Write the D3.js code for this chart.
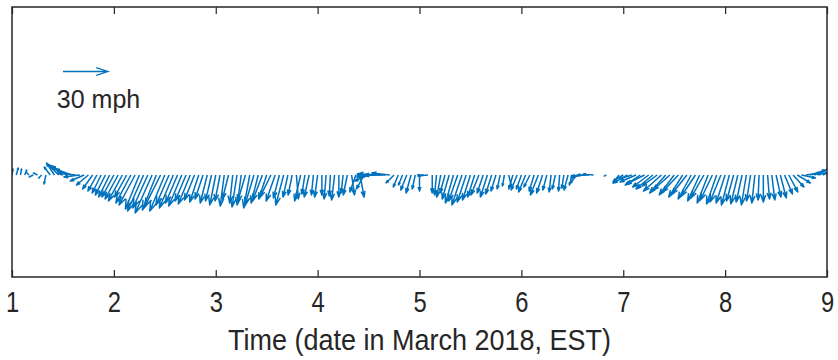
<!DOCTYPE html>
<html>
<head>
<meta charset="utf-8">
<script src="https://cdn.jsdelivr.net/npm/d3@7"></script>
<style>
  body { margin: 0; background: #fff; }
  text { font-family: "Liberation Sans", Arial, sans-serif; fill: #262626; }
</style>
</head>
<body>
<svg id="chart" width="838" height="360"></svg>
<script>
// hourly wind vectors, 1 March 00:00 to 8 March 23:00 (EST), in mph
// u = eastward, v = northward, null = missing
const uWind = [
  // day 1
  0.7, 1.3, 0.7, 1.3, -2, -2.7, -2.7, -2, -1.3, -4, -5.3, -6.7,
  -9.3, -10.7, -10.7, -12, -10.7, -9.3, -8, -6.7, -6, -6, -6.7, -7.3,
  // day 2
  -8, -8.7, -9.3, -8, -10, -10.7, -9.3, -10.7, -10, -11.3, -9.3, -10.7,
  -10, -8.7, -9.3, -8, -8.7, -7.3, -8, -6.7, -6, -5.3, -4.7, -4,
  // day 3
  -4, -3.3, -2.7, -4, -2, -3.3, -2.7, -5.3, -4, -6, -4.7, -6.7,
  -5.3, -7.3, -6, -4, -5.3, -3.3, -2.7, 1.3, -4, -2, -3.3, -1.3,
  // day 4
  -2, 0, -1.3, -0.7, -2, 0, -1.3, -2.7, 2, -4, 2.7, -5.3,
  -9.3, -10.7, -13.3, -16, -14.7, -12, -5.3, -3.3, -2.7, -4, -3.3, -2,
  // day 5
  0, -4, -6.7, 0, -1.3, -2.7, -3.3, -4.7, -5.3, -6, -6.7, -6,
  -5.3, -4.7, -5.3, -4, -4.7, -4, -3.3, -2, -1.3, 2, -2.7, -4,
  // day 6
  -3.3, -4.7, -4, -3.3, -5.3, -4, -2.7, -1.3, -2, -0.7, -1.3, -2.7,
  -2, -4, -6.7, -9.3, -8, -6.7, null, null, -1.3, null, null, -4,
  // day 7
  -6.7, -9.3, -8, -10.7, -10, -12, -10.7, -11.3, -10, -12, -10.7, -11.3,
  -10, -10.7, -9.3, -10, -8.7, -9.3, -8, -8.7, -7.3, -8, -6.7, -7.3,
  // day 8
  -6, -5.3, -4.7, -4.7, -4, -3.3, -2.7, -2, -0.7, 0, 1.3, 2,
  3.3, 4, 5.3, 6, 7.3, 8.7, 9.3, 10, 10.7, 11.3, 10, 9.3
];
const vWind = [
  // day 1
  4, 4.7, 4, 3.3, 2, -1.3, 1.3, -2, -6, 5.3, 8, 6.7,
  6.7, 6, 4, 1.3, -1.3, -4, -6.7, -9.3, -10.7, -12, -13.3, -14.7,
  // day 2
  -14.7, -16, -17.3, -14.7, -18.7, -20, -22.7, -24, -22, -25.3, -23.3, -21.3,
  -24, -20, -22, -18.7, -20.7, -17.3, -19.3, -16.7, -18, -16, -18.7, -17.3,
  // day 3
  -20, -17.3, -20.7, -16, -18.7, -21.3, -20, -18, -22, -20, -18.7, -17.3,
  -16, -14.7, -17.3, -15.3, -20, -14.7, -13.3, -16, -17.3, -12.7, -14.7, -13.3,
  // day 4
  -14.7, -13.3, -16, -14, -16.7, -14.7, -12, -13.3, -13.3, -11.3, -14.7, -9.3,
  -4, -1.3, 0, 0.7, 0, 1.3, -5.3, -8, -6.7, -10, -12, -9.3,
  // day 5
  -10.7, 0, -0.7, -12, -13.3, -14.7, -12, -16, -18.7, -17.3, -20, -18,
  -16.7, -14.7, -13.3, -12, -14.7, -12.7, -10.7, -9.3, -7.3, -8, -9.3, -10,
  // day 6
  -9.3, -11.3, -8, -10.7, -13.3, -12, -10, -11.3, -9.3, -10.7, -8.7, -10,
  -6.7, -5.3, -2, -0.7, 0, 0.7, null, null, -0.7, null, null, -5.3,
  // day 7
  -4, -5.3, -2.7, -4.7, -6.7, -6, -8, -9.3, -7.3, -10.7, -12, -10,
  -13.3, -11.3, -14.7, -12.7, -16, -14, -17.3, -15.3, -18.7, -16.7, -19.3, -18,
  // day 8
  -18.7, -20, -17.3, -19.3, -18, -20, -17.3, -18.7, -16.7, -18, -16, -16.7,
  -14.7, -15.3, -12.7, -11.3, -8, -5.3, -2, 1.3, 3.3, 4.7, 3.3, 4
];
const startDay = 1;           // first sample: 1 March 00:00
const stepDays = 1 / 24;      // hourly
const xTicks = [1, 2, 3, 4, 5, 6, 7, 8, 9];
const refSpeed = 30;          // reference arrow, mph
const refLabel = "30 mph";
const xLabel = "Time (date in March 2018, EST)";

const width = 838, height = 360;
const margin = { top: 7, right: 11, bottom: 83, left: 12 };
const svg = d3.select("#chart");

const x = d3.scaleLinear().domain([1, 9]).range([margin.left, width - margin.right]);
// y in mph, same pixel size as u so arrows keep their direction
const y = d3.scaleLinear().domain([-68, 112]).range([height - margin.bottom, margin.top]);
const k = y(0) - y(1); // px per mph

const blue = "#0072BD";
const plot = svg.append("g");

svg.append("clipPath").attr("id", "clip")
  .append("rect")
  .attr("x", margin.left).attr("y", margin.top)
  .attr("width", width - margin.left - margin.right)
  .attr("height", height - margin.top - margin.bottom);

// quiver-style arrow: shaft plus two barbs at the tip
function arrowPath(x0, y0, dx, dy) {
  const a = 0.26, b = 0.33;
  const tx = x0 + dx, ty = y0 + dy;
  const h1x = tx - a * (dx + b * dy), h1y = ty - a * (dy - b * dx);
  const h2x = tx - a * (dx - b * dy), h2y = ty - a * (dy + b * dx);
  return `M${x0},${y0}L${tx},${ty}M${h1x},${h1y}L${tx},${ty}L${h2x},${h2y}`;
}

const winds = uWind.map((u, i) => ({ t: startDay + i * stepDays, u: u, v: vWind[i] }))
  .filter(d => d.u !== null && d.v !== null);

plot.append("g").attr("clip-path", "url(#clip)")
  .selectAll("path")
  .data(winds)
  .join("path")
  .attr("d", d => arrowPath(x(d.t), y(0), d.u * k, -d.v * k))
  .attr("fill", "none")
  .attr("stroke", blue)
  .attr("stroke-width", 1.5)
  .attr("stroke-linejoin", "round");

// reference arrow
plot.append("path")
  .attr("d", arrowPath(x(1.5), y(69), refSpeed * k, 0))
  .attr("fill", "none")
  .attr("stroke", blue)
  .attr("stroke-width", 1.3);
plot.append("text")
  .attr("transform", `translate(${x(1.44)},${y(44.5)}) scale(1,1.05)`)
  .attr("font-size", 25)
  .text(refLabel);

// axes box
const axisColor = "#262626";
const xAxis = svg.append("g")
  .attr("transform", `translate(0,${height - margin.bottom})`)
  .call(d3.axisBottom(x).tickValues(xTicks).tickSize(-7).tickFormat(d3.format("d")));
const xTop = svg.append("g")
  .attr("transform", `translate(0,${margin.top})`)
  .call(d3.axisTop(x).tickValues(xTicks).tickSize(-7).tickFormat(""));
[xAxis, xTop].forEach(g => {
  g.select(".domain").remove();
  g.selectAll(".tick line").attr("stroke", axisColor).attr("stroke-width", 1.2);
});
// labels in the reference are a little tall and narrow
xAxis.selectAll(".tick text")
  .attr("y", null).attr("dy", null)
  .attr("transform", "translate(0,35) scale(0.95,1.2)")
  .attr("font-size", 25)
  .attr("font-family", "Liberation Sans, Arial, sans-serif")
  .attr("fill", axisColor);

svg.append("rect")
  .attr("x", margin.left).attr("y", margin.top)
  .attr("width", width - margin.left - margin.right)
  .attr("height", height - margin.top - margin.bottom)
  .attr("fill", "none")
  .attr("stroke", axisColor)
  .attr("stroke-width", 1.5);

svg.append("text")
  .attr("transform", `translate(${(x(1) + x(9)) / 2},350) scale(1,1.12)`)
  .attr("text-anchor", "middle")
  .attr("font-size", 27)
  .text(xLabel);
</script>
</body>
</html>
